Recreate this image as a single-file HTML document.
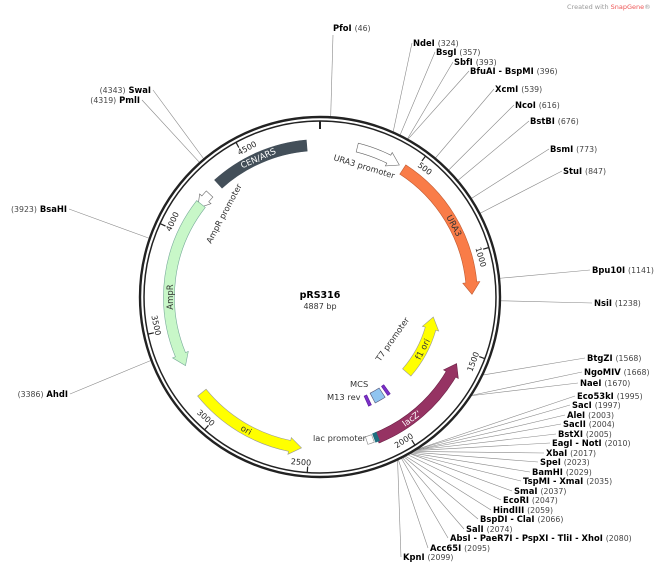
<!DOCTYPE html>
<html><head><meta charset="utf-8"><style>
html,body{margin:0;padding:0;background:#fff;width:660px;height:567px;overflow:hidden}
svg{display:block;font-family:"DejaVu Sans","Liberation Sans",sans-serif}
.n{font-weight:bold;font-size:8.4px;fill:#000}
.c{font-size:7.8px;fill:#444;font-weight:normal}
.f{font-size:8.3px;fill:#333}
.t{font-size:8px;fill:#222}
</style></head><body>
<svg id="s" width="660" height="567" viewBox="0 0 660 567" xmlns="http://www.w3.org/2000/svg">
<g id="lines" stroke="#888" stroke-width="0.6" fill="none"></g>
<circle cx="320" cy="297" r="180" fill="none" stroke="#222" stroke-width="2.4"/>
<circle cx="320" cy="297" r="176" fill="none" stroke="#222" stroke-width="1.5"/>
<g id="feat"></g>
<g id="ticks" stroke="#222" stroke-width="1.2"></g>
<text class="n" x="333" y="31">PfoI <tspan class="c">(46)</tspan></text>
<text class="n" x="413" y="46">NdeI <tspan class="c">(324)</tspan></text>
<text class="n" x="436" y="55">BsgI <tspan class="c">(357)</tspan></text>
<text class="n" x="454" y="65">SbfI <tspan class="c">(393)</tspan></text>
<text class="n" x="470" y="74">BfuAI - BspMI <tspan class="c">(396)</tspan></text>
<text class="n" x="495" y="92">XcmI <tspan class="c">(539)</tspan></text>
<text class="n" x="515" y="108">NcoI <tspan class="c">(616)</tspan></text>
<text class="n" x="530" y="124">BstBI <tspan class="c">(676)</tspan></text>
<text class="n" x="550" y="152">BsmI <tspan class="c">(773)</tspan></text>
<text class="n" x="563" y="174">StuI <tspan class="c">(847)</tspan></text>
<text class="n" x="592" y="273">Bpu10I <tspan class="c">(1141)</tspan></text>
<text class="n" x="594" y="306">NsiI <tspan class="c">(1238)</tspan></text>
<text class="n" x="587" y="361">BtgZI <tspan class="c">(1568)</tspan></text>
<text class="n" x="584" y="375">NgoMIV <tspan class="c">(1668)</tspan></text>
<text class="n" x="580" y="386">NaeI <tspan class="c">(1670)</tspan></text>
<text class="n" x="577" y="399">Eco53kI <tspan class="c">(1995)</tspan></text>
<text class="n" x="572" y="408">SacI <tspan class="c">(1997)</tspan></text>
<text class="n" x="567" y="418">AleI <tspan class="c">(2003)</tspan></text>
<text class="n" x="563" y="427">SacII <tspan class="c">(2004)</tspan></text>
<text class="n" x="558" y="437">BstXI <tspan class="c">(2005)</tspan></text>
<text class="n" x="552" y="446">EagI - NotI <tspan class="c">(2010)</tspan></text>
<text class="n" x="546" y="456">XbaI <tspan class="c">(2017)</tspan></text>
<text class="n" x="540" y="465">SpeI <tspan class="c">(2023)</tspan></text>
<text class="n" x="532" y="475">BamHI <tspan class="c">(2029)</tspan></text>
<text class="n" x="523" y="484">TspMI - XmaI <tspan class="c">(2035)</tspan></text>
<text class="n" x="514" y="494">SmaI <tspan class="c">(2037)</tspan></text>
<text class="n" x="503" y="503">EcoRI <tspan class="c">(2047)</tspan></text>
<text class="n" x="493" y="513">HindIII <tspan class="c">(2059)</tspan></text>
<text class="n" x="480" y="522">BspDI - ClaI <tspan class="c">(2066)</tspan></text>
<text class="n" x="466" y="532">SalI <tspan class="c">(2074)</tspan></text>
<text class="n" x="450" y="541">AbsI - PaeR7I - PspXI - TliI - XhoI <tspan class="c">(2080)</tspan></text>
<text class="n" x="430" y="551">Acc65I <tspan class="c">(2095)</tspan></text>
<text class="n" x="403" y="560">KpnI <tspan class="c">(2099)</tspan></text>
<text class="n" x="151" y="93" text-anchor="end"><tspan class="c">(4343)</tspan> SwaI</text>
<text class="n" x="140" y="103" text-anchor="end"><tspan class="c">(4319)</tspan> PmlI</text>
<text class="n" x="67" y="212" text-anchor="end"><tspan class="c">(3923)</tspan> BsaHI</text>
<text class="n" x="68" y="397" text-anchor="end"><tspan class="c">(3386)</tspan> AhdI</text>
<text x="320" y="298" text-anchor="middle" style="font-weight:bold;font-size:9.5px">pRS316</text>
<text x="320" y="309" text-anchor="middle" style="font-size:8px;fill:#333">4887 bp</text>
<text class="f" transform="translate(333,160) rotate(17)">URA3 promoter</text>
<text class="f" transform="translate(211,244) rotate(-62)">AmpR promoter</text>
<text class="f" transform="translate(380,362) rotate(-55)">T7 promoter</text>
<text class="f" x="350" y="387">MCS</text>
<text class="f" x="327" y="400">M13 rev</text>
<text class="f" x="313" y="441">lac promoter</text>
<text x="567" y="9" style="font-size:6.5px;fill:#999">Created with <tspan fill="#e55">SnapGene</tspan>®</text>
<g id="flab"></g>
</svg>
<script>
var cx=320,cy=297,NS="http://www.w3.org/2000/svg";
function P(r,a){a=a*Math.PI/180;return [cx+r*Math.sin(a),cy-r*Math.cos(a)];}
function el(tag,at,parent){var e=document.createElementNS(NS,tag);for(var k in at)e.setAttribute(k,at[k]);document.getElementById(parent).appendChild(e);return e;}
function f(p){return p[0].toFixed(1)+","+p[1].toFixed(1);}
function band(a1,a2,r,w,dir,fill,stroke){
 var ro=r+w/2,ri=r-w/2,h=dir?12/r*180/Math.PI:0,d;
 if(dir===0){
  d="M"+f(P(ro,a1))+"A"+ro+","+ro+" 0 0 1 "+f(P(ro,a2))+"L"+f(P(ri,a2))+"A"+ri+","+ri+" 0 0 0 "+f(P(ri,a1))+"Z";
 } else if(dir===1){
  var e=a2-h;
  d="M"+f(P(ro,a1))+"A"+ro+","+ro+" 0 0 1 "+f(P(ro,e))+"L"+f(P(ro+3,e))+"L"+f(P(r,a2))+"L"+f(P(ri-3,e))+"L"+f(P(ri,e))+"A"+ri+","+ri+" 0 0 0 "+f(P(ri,a1))+"Z";
 } else {
  var s=a1+h;
  d="M"+f(P(ro,a2))+"A"+ro+","+ro+" 0 0 0 "+f(P(ro,s))+"L"+f(P(ro+3,s))+"L"+f(P(r,a1))+"L"+f(P(ri-3,s))+"L"+f(P(ri,s))+"A"+ri+","+ri+" 0 0 1 "+f(P(ri,a2))+"Z";
 }
 el("path",{d:d,fill:fill,stroke:stroke||"#555","stroke-width":0.6},"feat");
}
band(318,355,152,11,0,"#434f59","#434f59");
band(14,31,154,9,1,"#fff","#666");
band(33,89,152,11,1,"#f97c48","#c05a30");
band(306,313,151,9,-1,"#fff","#666");
band(243,308,151,11,-1,"#c8f7c8","#7a9");
band(187,231,152,11,-1,"#ffff00","#999");
band(116,158,152,11,-1,"#963363","#6a2045");
band(100,131,115,11,-1,"#ffff00","#999");
band(157.5,159,151,9,0,"#1f6f7f","#1f6f7f");
band(159.5,162,151,8,0,"#fff","#888");
band(147,152.5,114,11,0,"#90c4f0","#557");
band(144,145.5,114,11,0,"#7b2fc8","#5a1a9a");
band(154.5,156,114,11,0,"#7b2fc8","#5a1a9a");
function lab(t,a,r,col){var p=P(r,a);var rot=(a<90||a>=250)?a:a-180;var e=el("text",{transform:"translate("+f(p)+") rotate("+rot.toFixed(1)+")","text-anchor":"middle",dy:"3",style:"font-size:8.5px;fill:"+col},"flab");e.textContent=t;}
lab("CEN/ARS",336,152,"#fff");lab("URA3",62,152,"#333");lab("AmpR",270,150,"#333");
lab("ori",209,152,"#333");lab("lacZ'",143,152,"#fff");lab("f1 ori",117,115,"#333");
var t0=P(176,0),t1=P(168,0);el("line",{x1:t0[0],y1:t0[1],x2:t1[0],y2:t1[1],"stroke-width":2},"ticks");
for(var b=500;b<4887;b+=500){var a=b/4887*360;var p0=P(176,a),p1=P(170,a);el("line",{x1:p0[0],y1:p0[1],x2:p1[0],y2:p1[1]},"ticks");
 var q=P(166,a+2.4);var rot=(a<90||a>270)?a:a-180;var e=el("text",{class:"t",transform:"translate("+f(q)+") rotate("+rot.toFixed(1)+")","text-anchor":"middle",dy:"3"},"flab");e.textContent=b;}
var S=[[46,333,35],[324,412,43],[357,435,52],[393,453,62],[396,469,71],[539,494,89],[616,514,105],[676,529,121],[773,549,149],[847,562,171],[1141,590,270],[1238,592,303],[1568,585,358],[1668,582,372],[1670,578,383],
[1995,575,396],[1997,570,405],[2003,565,415],[2004,561,424],[2005,556,434],[2010,550,443],[2017,544,453],[2023,538,462],[2029,530,472],[2035,521,481],[2037,512,491],[2047,501,500],[2059,491,510],[2066,478,519],[2074,464,529],[2080,448,538],[2095,428,548],[2099,401,557],
[4343,153,90],[4319,142,100],[3923,69,209],[3386,70,394]];
S.forEach(function(s){var a=s[0]/4887*360;var p=P(181,a);el("line",{x1:s[1],y1:s[2],x2:p[0],y2:p[1]},"lines");});
</script>
</body></html>
